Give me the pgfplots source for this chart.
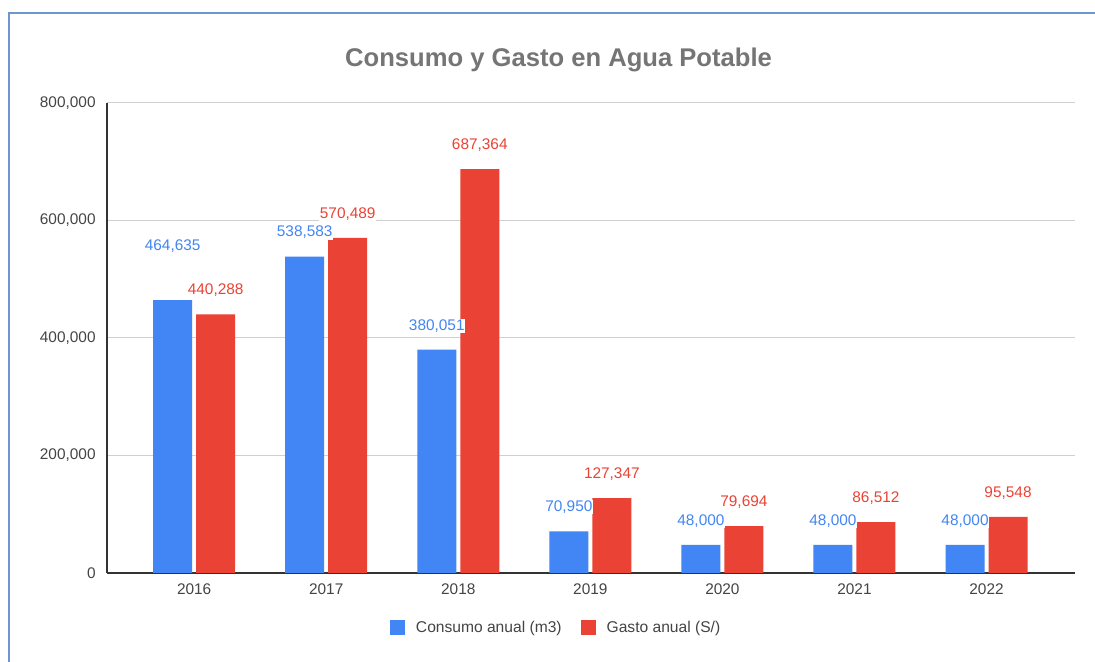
\documentclass[border=0pt]{standalone}
\usepackage{pgfplots}
\pgfplotsset{compat=1.18}
\usepackage{pgfplotstable}
\usepackage{fontspec}
\setmainfont{Liberation Sans}
\definecolor{cblue}{HTML}{4285F4}
\definecolor{cred}{HTML}{EA4335}
\definecolor{framec}{HTML}{6A97CD}
\definecolor{tickc}{HTML}{444444}
\definecolor{titlec}{HTML}{757575}
\definecolor{gridc}{HTML}{D0D0D0}
\definecolor{axisc}{HTML}{333333}

\pgfplotstableread{
x y dy
0 464635 27
1 538583 12
2 380051 12
3 70950 12
4 48000 12
5 48000 12
6 48000 12
}\consumo
\pgfplotstableread{
x y dy
0 440288 12
1 570489 12
2 687364 12
3 127347 12
4 79694 12
5 86512 12
6 95548 12
}\gasto

\begin{document}
\begin{tikzpicture}
\path[use as bounding box] (-53.5pt,-44.5pt) rectangle (494pt,286.5pt);
\fill[white] (-53.5pt,-44.5pt) rectangle (494pt,286.5pt);
\draw[framec, line width=1pt] (-49pt,-44.5pt) -- (-49pt,280pt) -- (494pt,280pt);
\node[font=\fontsize{12.8pt}{14pt}\selectfont\bfseries, text=titlec] at (225.75pt,256.5pt) {Consumo y Gasto en Agua Potable};
\begin{axis}[
  at={(0pt,0pt)}, anchor=south west,
  scale only axis, width=484pt, height=235pt,
  xmin=-0.66, xmax=6.67, ymin=0, ymax=800000,
  xtick={0,...,6}, xticklabels={2016,2017,2018,2019,2020,2021,2022},
  ytick={0,200000,400000,600000,800000},
  scaled y ticks=false,
  /pgf/number format/.cd, fixed, precision=0, 1000 sep={,}, assume math mode=true, /pgfplots/.cd,
  major tick length=0pt,
  axis x line=bottom, axis y line=left,
  axis line style={-, axisc, line width=0.6pt},
  ymajorgrids, grid style={gridc, line width=0.5pt},
  tick label style={font=\fontsize{7.7pt}{9pt}\selectfont, text=tickc},
  yticklabel style={anchor=east, inner sep=0pt, xshift=-5.5pt},
  xticklabel style={anchor=north, inner sep=0pt, yshift=-5pt},
  ybar, bar width=19.5pt,
  nodes near coords,
  visualization depends on={\thisrow{dy} \as \dy},
  every node near coord/.append style={anchor=center, yshift=\dy pt, font=\fontsize{7.7pt}{9pt}\selectfont, fill=white, inner sep=0.3pt},
  legend columns=2,
  legend style={at={(0.465,-0.117)}, anchor=center, draw=none, fill=none,
    font=\fontsize{7.8pt}{9pt}\selectfont, text=tickc,
    /tikz/every even column/.append style={column sep=7.5pt}},
  legend image code/.code={\fill[#1] (0pt,-3.75pt) rectangle (7.5pt,3.75pt); \path (11pt,0pt);},
]
\addplot[fill=cblue, draw=none, bar shift=-10.75pt, nodes near coords style={text=cblue}] table[x=x,y=y] {\consumo};
\addplot[fill=cred, draw=none, bar shift=10.75pt, nodes near coords style={text=cred}] table[x=x,y=y] {\gasto};
\legend{Consumo anual (m3), Gasto anual (S/)}
\end{axis}
\end{tikzpicture}
\end{document}
